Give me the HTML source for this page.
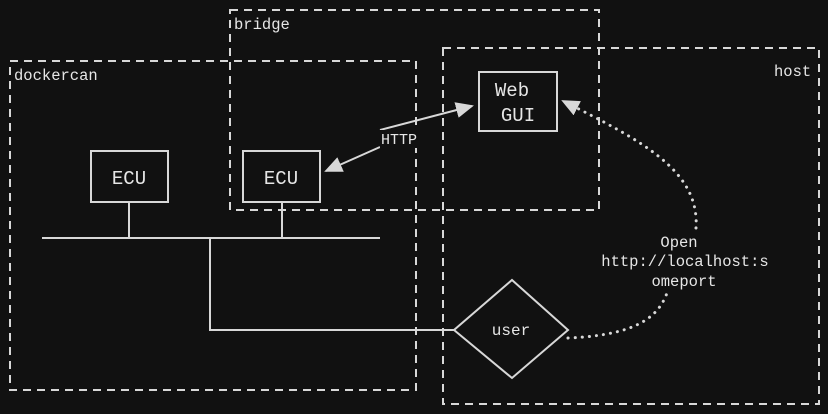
<!DOCTYPE html>
<html><head><style>
html,body{margin:0;padding:0;background:#111111;}
svg{display:block;}
text{font-family:"Liberation Mono","DejaVu Sans Mono",monospace;fill:#e6e6e6;}
</style></head><body>
<svg width="828" height="414" viewBox="0 0 828 414">
<defs>
<marker id="ah" markerWidth="18" markerHeight="16" refX="16" refY="8" orient="auto" markerUnits="userSpaceOnUse" viewBox="0 0 18 16">
<path d="M0,0 L18,8 L0,16 z" fill="#d8d8d8"/>
</marker>
</defs>
<g fill="none" stroke="#d8d8d8" stroke-width="2" stroke-dasharray="8,6">
<rect x="10" y="61" width="406" height="329"/>
<rect x="230" y="10" width="369" height="200"/>
<rect x="443" y="48" width="376" height="356"/>
</g>
<g fill="none" stroke="#d8d8d8" stroke-width="2">
<rect x="91" y="151" width="77" height="51"/>
<rect x="243" y="151" width="77" height="51"/>
<rect x="479" y="72" width="78" height="59"/>
<line x1="42" y1="238" x2="380" y2="238"/>
<line x1="129" y1="202" x2="129" y2="238"/>
<line x1="282" y1="202" x2="282" y2="238"/>
<polyline points="210,238 210,330 454,330"/>
<polygon points="512,280 568,330 512,378 454,330"/>
<line x1="380" y1="130" x2="472" y2="106" marker-end="url(#ah)"/>
<line x1="380" y1="147" x2="326" y2="171" marker-end="url(#ah)"/>
<path d="M568,338 C640,335 660,315 668,290 M696,228 C700,170 640,140 563,101" stroke-dasharray="0.1,7" stroke-width="3" stroke-linecap="round" marker-end="url(#ah)"/>
</g>
<rect x="380" y="130" width="40" height="18" fill="#111111"/>
<text x="14" y="80" font-size="15.5">dockercan</text>
<text x="234" y="29" font-size="15.5">bridge</text>
<text x="774" y="76" font-size="15.5">host</text>
<text x="129" y="184" font-size="19" text-anchor="middle">ECU</text>
<text x="281" y="184" font-size="19" text-anchor="middle">ECU</text>
<text x="512" y="96" font-size="19" text-anchor="middle">Web</text>
<text x="518" y="121" font-size="19" text-anchor="middle">GUI</text>
<text x="399" y="144" font-size="15" text-anchor="middle">HTTP</text>
<text x="511" y="335" font-size="16" text-anchor="middle">user</text>
<text x="679" y="247" font-size="15.5" text-anchor="middle">Open</text>
<text x="685" y="266" font-size="15.5" text-anchor="middle">http://localhost:s</text>
<text x="684" y="286" font-size="15.5" text-anchor="middle">omeport</text>
</svg>
</body></html>
